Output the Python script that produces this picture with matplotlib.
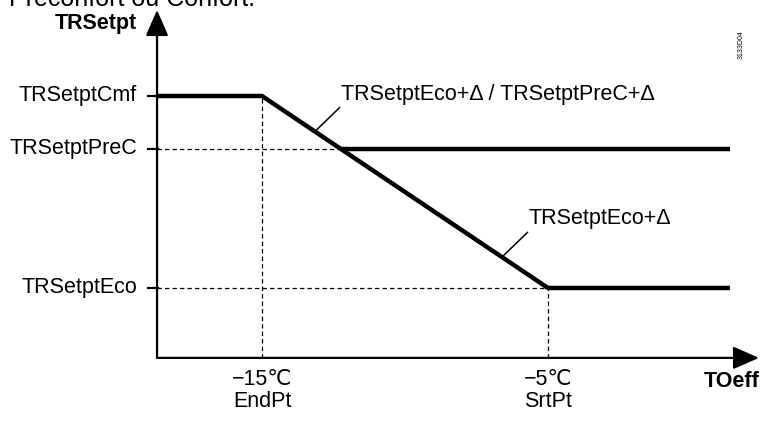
import matplotlib
matplotlib.use("Agg")
import matplotlib.pyplot as plt

# ---- data ----
x_endpt = -15.0      # EndPt temperature (°C)
x_srtpt = -5.0       # SrtPt temperature (°C)
y_eco = 16.0         # TRSetptEco
y_prec = 19.62       # TRSetptPreC
y_cmf = 21.0         # TRSetptCmf
x_axis_min = -18.67
x_line_end = 1.36
y_axis_min = 14.18
x_tip = 2.38
y_tip = 23.24
y_levels = [y_cmf, y_prec, y_eco]
y_labels = ["TRSetptCmf", "TRSetptPreC", "TRSetptEco"]
x_ticks = [x_endpt, x_srtpt]
x_tick_labels = ["\u221215\u2103\nEndPt", "\u22125\u2103\nSrtPt"]

plt.rcParams['font.family'] = ['Liberation Sans', 'DejaVu Sans']
FS = 15.5

fig = plt.figure(figsize=(7.6, 4.22), dpi=100)
ax = fig.add_axes([0, 0, 1, 1])
ax.set_xlim(-24.161, 2.413)
ax.set_ylim(12.51, 23.5)
ax.axis('off')

# slope line: from (endpt, cmf) to (srtpt, eco)
slope = (y_eco - y_cmf) / (x_srtpt - x_endpt)
x_int = x_endpt + (y_prec - y_cmf) / slope


def on_curve(x):
    return y_cmf + slope * (x - x_endpt)


# dashed guides
dkw = dict(color='black', lw=0.9, ls=(0, (3.5, 2.5)))
ax.plot([x_axis_min, x_int], [y_prec, y_prec], **dkw)
ax.plot([x_axis_min, x_srtpt], [y_eco, y_eco], **dkw)
ax.plot([x_endpt, x_endpt], [y_axis_min, y_cmf], **dkw)
ax.plot([x_srtpt, x_srtpt], [y_axis_min, y_eco], **dkw)

# main characteristic
lw = 3.2
ax.plot([x_axis_min, x_endpt, x_srtpt, x_line_end],
        [y_cmf, y_cmf, y_eco, y_eco], color='black', lw=lw,
        solid_joinstyle='miter', solid_capstyle='butt')
ax.plot([x_int, x_line_end], [y_prec, y_prec], color='black', lw=lw,
        solid_capstyle='butt')

# axes with arrows
akw = dict(arrowstyle='-|>,head_length=0.8,head_width=0.35', lw=1.6,
           color='black', mutation_scale=20, shrinkA=0, shrinkB=0)
ax.annotate('', xy=(x_axis_min, y_tip), xytext=(x_axis_min, y_axis_min),
            arrowprops=akw)
ax.annotate('', xy=(x_tip, y_axis_min), xytext=(x_axis_min, y_axis_min),
            arrowprops=akw)

# y ticks & labels
for yv, lab in zip(y_levels, y_labels):
    ax.plot([x_axis_min - 0.33, x_axis_min + 0.05], [yv, yv],
            color='black', lw=1.6)
    ax.text(x_axis_min - 0.7, yv, lab, ha='right', va='center', fontsize=FS)

# x tick labels
for xv, lab in zip(x_ticks, x_tick_labels):
    ax.text(xv, y_axis_min - 0.3, lab, ha='center', va='top', fontsize=FS,
            linespacing=1.05)

ax.text(-19.37, 22.9, "TRSetpt", ha='right', va='center', fontsize=FS,
        fontweight='bold')
ax.text(2.41, y_axis_min - 0.62, "TOeff", ha='right', va='center',
        fontsize=FS, fontweight='bold')

# annotations with leader lines
lkw = dict(color='black', lw=1.1, solid_capstyle='butt')
ax.plot([-12.27, -13.15], [20.71, on_curve(-13.15)], **lkw)
ax.text(-12.24, 20.90, "TRSetptEco+\u0394 / TRSetptPreC+\u0394",
        ha='left', va='baseline', fontsize=FS)
ax.plot([-5.70, -6.61], [17.46, on_curve(-6.61)], **lkw)
ax.text(-5.67, 17.67, "TRSetptEco+\u0394", ha='left', va='baseline',
        fontsize=FS)

# header text (clipped at top) and document id
fig.text(0.012, 1.0 - 6 / 422, "Préconfort ou Confort:", ha='left',
         va='baseline', fontsize=18)
fig.text(741 / 760, 1 - 45 / 422, "3133D04", rotation=90, ha='center',
         va='center', fontsize=5)

fig.savefig("out.png", dpi=100)
